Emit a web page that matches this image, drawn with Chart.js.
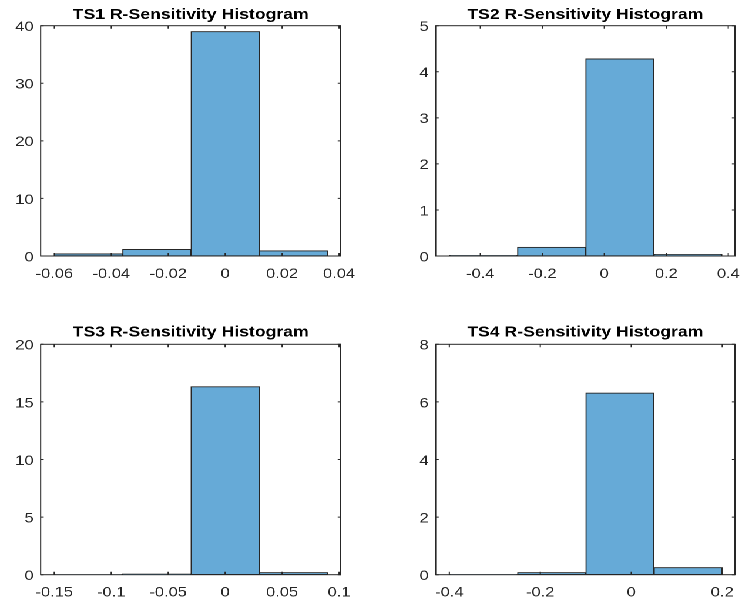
<!DOCTYPE html>
<html>
<head>
<meta charset="utf-8">
<title>R-Sensitivity Histograms</title>
<script src="https://cdn.jsdelivr.net/npm/chart.js@4.4.1/dist/chart.umd.min.js"></script>
<style>
  body { margin: 0; background: #fff; }
  /* figure is laid out narrow, then widened to the window */
  #fig { position: relative; width: 630px; height: 604px; transform: scaleX(1.175); transform-origin: 0 0; }
  .panel { position: absolute; width: 315px; }
</style>
</head>
<body>
<div id="fig">
  <div class="panel" style="left:0;top:0;height:300px"><canvas id="ts1"></canvas></div>
  <div class="panel" style="left:315px;top:0;height:300px"><canvas id="ts2"></canvas></div>
  <div class="panel" style="left:0;top:300px;height:304px"><canvas id="ts3"></canvas></div>
  <div class="panel" style="left:315px;top:300px;height:304px"><canvas id="ts4"></canvas></div>
</div>
<script>
// bin edges and probability densities for each time series
const ts1Edges = [-0.06, -0.036, -0.012, 0.012, 0.036];
const ts1Values = [0.4, 1.16, 39.0, 0.92];
const ts1XTicks = [-0.06, -0.04, -0.02, 0, 0.02, 0.04];
const ts1XLabels = ['-0.06', '-0.04', '-0.02', '0', '0.02', '0.04'];
const ts1YTicks = [0, 10, 20, 30, 40];
const ts1XLim = [-0.0648, 0.0406];

const ts2Edges = [-0.5, -0.28, -0.06, 0.16, 0.38];
const ts2Values = [0.015, 0.19, 4.28, 0.035];
const ts2XTicks = [-0.4, -0.2, 0, 0.2, 0.4];
const ts2XLabels = ['-0.4', '-0.2', '0', '0.2', '0.4'];
const ts2YTicks = [0, 1, 2, 3, 4, 5];
const ts2XLim = [-0.544, 0.4216];

const ts3Edges = [-0.15, -0.09, -0.03, 0.03, 0.09];
const ts3Values = [0.01, 0.07, 16.33, 0.2];
const ts3XTicks = [-0.15, -0.1, -0.05, 0, 0.05, 0.1];
const ts3XLabels = ['-0.15', '-0.1', '-0.05', '0', '0.05', '0.1'];
const ts3YTicks = [0, 5, 10, 15, 20];
const ts3XLim = [-0.1619, 0.1015];

const ts4Edges = [-0.4, -0.25, -0.1, 0.05, 0.2];
const ts4Values = [0.01, 0.08, 6.31, 0.25];
const ts4XTicks = [-0.4, -0.2, 0, 0.2];
const ts4XLabels = ['-0.4', '-0.2', '0', '0.2'];
const ts4YTicks = [0, 2, 4, 6, 8];
const ts4XLim = [-0.43, 0.228];

const faceColor = '#66aad7';
const axisColor = '#262626';

// box around the axes with inward ticks on all four sides
const boxTicks = {
  id: 'boxTicks',
  afterDatasetsDraw(chart) {
    const ctx = chart.ctx, a = chart.chartArea;
    const xs = chart.scales.x, ys = chart.scales.y;
    ctx.save();
    ctx.strokeStyle = axisColor;
    ctx.lineWidth = 1;
    ctx.beginPath();
    xs.ticks.forEach(t => {
      const px = xs.getPixelForValue(t.value);
      ctx.moveTo(px, a.bottom); ctx.lineTo(px, a.bottom - 3);
      ctx.moveTo(px, a.top); ctx.lineTo(px, a.top + 3);
    });
    ys.ticks.forEach(t => {
      const py = ys.getPixelForValue(t.value);
      ctx.moveTo(a.left, py); ctx.lineTo(a.left + 2.6, py);
      ctx.moveTo(a.right, py); ctx.lineTo(a.right - 2.6, py);
    });
    ctx.stroke();
    ctx.strokeRect(a.left, a.top, a.right - a.left, a.bottom - a.top);
    ctx.restore();
  }
};

function histogram(id, title, edges, values, xTicks, xLabels, yTicks, xLim, box) {
  const points = values.map((v, i) => ({ x: (edges[i] + edges[i + 1]) / 2, y: v }));
  new Chart(document.getElementById(id), {
    type: 'bar',
    data: {
      datasets: [{
        data: points,
        backgroundColor: faceColor,
        borderColor: axisColor,
        borderWidth: 1,
        borderSkipped: false,
        barThickness: 'flex',
        barPercentage: 1,
        categoryPercentage: 1
      }]
    },
    plugins: [boxTicks],
    options: {
      responsive: true,
      maintainAspectRatio: false,
      animation: false,
      devicePixelRatio: 2,
      layout: { padding: { left: 0, right: box.padRight, top: 0, bottom: 0 } },
      plugins: {
        legend: { display: false },
        tooltip: { enabled: false },
        title: {
          display: true,
          text: title,
          fullSize: false,
          color: '#000',
          font: { family: 'Liberation Sans, Arial, sans-serif', size: 15, weight: 'bold', lineHeight: 1.2 },
          padding: { top: box.titleTop, bottom: box.titleBottom }
        }
      },
      scales: {
        x: {
          type: 'linear',
          min: xLim[0],
          max: xLim[1],
          offset: false,
          grid: { display: false, drawTicks: false },
          border: { display: false },
          afterBuildTicks: s => { s.ticks = xTicks.map(v => ({ value: v })); },
          afterFit: s => { s.height = box.xAxisH; s.paddingLeft = 0; s.paddingRight = 0; },
          ticks: {
            autoSkip: false,
            maxRotation: 0,
            padding: 9.5,
            color: axisColor,
            font: { family: 'Liberation Sans, Arial, sans-serif', size: 14 },
            callback: (v, i) => xLabels[i]
          }
        },
        y: {
          min: 0,
          max: yTicks[yTicks.length - 1],
          grid: { display: false, drawTicks: false },
          border: { display: false },
          afterBuildTicks: s => { s.ticks = yTicks.map(v => ({ value: v })); },
          afterFit: s => { s.width = box.yAxisW; s.paddingTop = 0; s.paddingBottom = 0; },
          ticks: {
            autoSkip: false,
            padding: 6,
            labelOffset: 1.5,
            color: axisColor,
            font: { family: 'Liberation Sans, Arial, sans-serif', size: 14 },
            callback: v => String(v)
          }
        }
      }
    }
  });
}

histogram('ts1', 'TS1 R-Sensitivity Histogram', ts1Edges, ts1Values, ts1XTicks, ts1XLabels, ts1YTicks, ts1XLim,
  { yAxisW: 34.6, padRight: 25, titleTop: 5.7, titleBottom: 2, xAxisH: 44 });
histogram('ts2', 'TS2 R-Sensitivity Histogram', ts2Edges, ts2Values, ts2XTicks, ts2XLabels, ts2YTicks, ts2XLim,
  { yAxisW: 55.8, padRight: 4.5, titleTop: 5.7, titleBottom: 2, xAxisH: 44 });
histogram('ts3', 'TS3 R-Sensitivity Histogram', ts3Edges, ts3Values, ts3XTicks, ts3XLabels, ts3YTicks, ts3XLim,
  { yAxisW: 34.6, padRight: 25, titleTop: 23.2, titleBottom: 3.1, xAxisH: 29.3 });
histogram('ts4', 'TS4 R-Sensitivity Histogram', ts4Edges, ts4Values, ts4XTicks, ts4XLabels, ts4YTicks, ts4XLim,
  { yAxisW: 55.8, padRight: 4.5, titleTop: 23.2, titleBottom: 3.1, xAxisH: 29.3 });
</script>
</body>
</html>
